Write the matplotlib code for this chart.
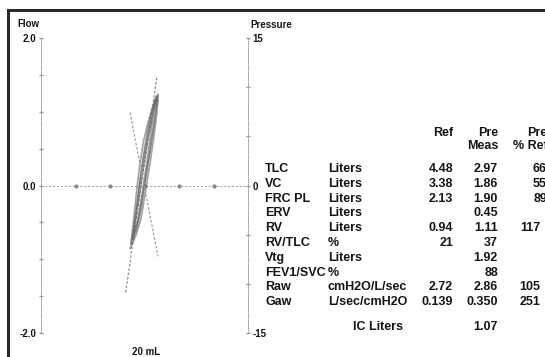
import matplotlib
matplotlib.use('Agg')
import matplotlib.pyplot as plt
from matplotlib.lines import Line2D

# ── Data ──────────────────────────────────────────────────────────────────────
# breathing loops: box volume shift (mL) vs flow (L/s)
loop_x = [
    [-8.2, -5.0, -2.0, 0.8, 3.2, 5.2, 7.0, 7.8, 7.2, 5.0, 2.0, -0.6, -2.6, -4.2, -5.8, -7.2, -8.2],
    [-7.6, -4.6, -1.8, 0.8, 3.0, 5.0, 6.8, 7.6, 6.6, 4.2, 1.6, -0.6, -2.6, -4.6, -6.4, -7.6],
    [-7.0, -4.0, -1.6, 0.6, 2.6, 4.4, 6.2, 7.2, 6.2, 3.8, 1.4, -0.8, -2.8, -4.6, -6.0, -7.0],
    [-6.6, -3.8, -1.0, 1.6, 3.8, 5.8, 7.4, 8.0, 7.2, 5.2, 3.0, 0.8, -1.4, -3.4, -5.2, -6.6],
]
loop_flow = [
    [-0.85, -0.68, -0.45, -0.05, 0.30, 0.62, 0.95, 1.15, 1.20, 1.08, 0.85, 0.60, 0.30, 0.00, -0.35, -0.65, -0.85],
    [-0.78, -0.60, -0.30, 0.10, 0.45, 0.78, 1.08, 1.20, 1.16, 0.95, 0.65, 0.35, 0.05, -0.30, -0.60, -0.78],
    [-0.72, -0.50, -0.15, 0.20, 0.52, 0.85, 1.12, 1.22, 1.18, 0.98, 0.70, 0.38, 0.05, -0.30, -0.55, -0.72],
    [-0.70, -0.48, -0.10, 0.25, 0.55, 0.85, 1.12, 1.24, 1.20, 1.00, 0.75, 0.45, 0.12, -0.20, -0.48, -0.70],
]
# sRaw tangent (flow axis) and Vtg line (pressure axis)
tangent_x = [-10.9, 7.2]
tangent_flow = [-1.45, 1.48]
vtg_x = [-8.4, 7.8]
vtg_pressure = [7.4, -7.2]

# results table
params = ['TLC', 'VC', 'FRC PL', 'ERV', 'RV', 'RV/TLC', 'Vtg', 'FEV1/SVC', 'Raw', 'Gaw']
units = ['Liters', 'Liters', 'Liters', 'Liters', 'Liters', '%', 'Liters', '%',
         'cmH2O/L/sec', 'L/sec/cmH2O']
ref = ['4.48', '3.38', '2.13', '', '0.94', '21', '', '', '2.72', '0.139']
meas = ['2.97', '1.86', '1.90', '0.45', '1.11', '37', '1.92', '88', '2.86', '0.350']
pct_ref = ['66', '55', '89', '', '117', '', '', '', '105', '251']
ic_liters = '1.07'

# ── Figure ────────────────────────────────────────────────────────────────────
W, H = 545, 357
fig = plt.figure(figsize=(W / 100, H / 100), dpi=100)
fig.patch.set_facecolor('white')
plt.rcParams['font.family'] = ['Liberation Sans', 'DejaVu Sans']

def fx(px): return px / W
def fy(py): return 1 - py / H

TXT = '#151515'
AXC = '#9a9a9a'

ax = fig.add_axes([fx(41), fy(333), fx(248) - fx(41), fy(38) - fy(333)])
ax.set_xlim(-60, 60)
ax.set_ylim(-2, 2)
ax.set_facecolor('none')
ax2 = ax.twinx()
ax2.set_ylim(-15, 15)

for a in (ax, ax2):
    for s in ('top', 'bottom'):
        a.spines[s].set_visible(False)
    a.set_xticks([])
ax.spines['right'].set_visible(False)
ax2.spines['left'].set_visible(False)
for a, side in ((ax, 'left'), (ax2, 'right')):
    a.spines[side].set_color(AXC)
    a.spines[side].set_linewidth(0.7)
    a.spines[side].set_linestyle((0, (1, 1.5)))

ax.set_yticks([2, 1.5, 1, 0.5, 0, -0.5, -1, -1.5, -2])
ax.set_yticklabels(['2.0', '', '', '', '0.0', '', '', '', '-2.0'])
ax2.set_yticks([15, 10, 5, 0, -5, -10, -15])
ax2.set_yticklabels(['15', '', '', '0', '', '', '-15'])
for a in (ax, ax2):
    a.tick_params(axis='y', length=2.5, width=1.0, color=AXC, direction='inout',
                  labelsize=7, labelcolor=TXT, pad=2)
    for t in a.get_yticklabels():
        t.set_fontweight('bold')

# zero line with division dots (20 mL per division)
ax.axhline(0, color=AXC, lw=0.7, ls=(0, (2, 2)), zorder=1)
ax.plot([-40, -20, 0, 20, 40], [0] * 5, ls='none', marker='o', ms=2,
        color='#8a8a8a', zorder=2)

# loops
for lx, ly in zip(loop_x, loop_flow):
    ax.plot(lx, ly, color='#666666', lw=1.2, alpha=0.6, zorder=3)
ax.plot(tangent_x, tangent_flow, color='#8c8c8c', lw=0.9, ls=(0, (2, 1.5)), zorder=2)
ax2.plot(vtg_x, vtg_pressure, color='#a0a0a0', lw=0.9, ls=(0, (2, 1.5)), zorder=2)

# axis titles
fs = 9
fig.text(fx(17), fy(24), 'Flow', fontsize=7, fontweight='bold', color=TXT, va='center')
fig.text(fx(250), fy(25), 'Pressure', fontsize=7, fontweight='bold', color=TXT, va='center')
fig.text(fx(146), fy(352), '20 mL', fontsize=7, fontweight='bold', color=TXT,
         ha='center', va='center')

# table
X_LAB, X_UNIT, X_REF, X_MEAS = 265, 328, 453, 498
fig.text(fx(X_REF), fy(133), 'Ref', fontsize=fs, fontweight='bold', color=TXT, ha='right', va='center')
fig.text(fx(X_MEAS), fy(133), 'Pre', fontsize=fs, fontweight='bold', color=TXT, ha='right', va='center')
fig.text(fx(X_MEAS), fy(146), 'Meas', fontsize=fs, fontweight='bold', color=TXT, ha='right', va='center')
fig.text(fx(527), fy(133), 'Pre', fontsize=fs, fontweight='bold', color=TXT, ha='left', va='center')
fig.text(fx(513), fy(146), '% Ref', fontsize=fs, fontweight='bold', color=TXT, ha='left', va='center')

y0, dy = 169.0, 14.8
for i, (p, u, r, m, pr) in enumerate(zip(params, units, ref, meas, pct_ref)):
    y = fy(y0 + i * dy)
    fig.text(fx(X_LAB), y, p, fontsize=fs, fontweight='bold', color=TXT, va='center')
    fig.text(fx(X_UNIT), y, u, fontsize=fs, fontweight='bold', color=TXT, va='center')
    fig.text(fx(X_REF), y, r, fontsize=fs, fontweight='bold', color=TXT, ha='right', va='center')
    fig.text(fx(X_MEAS), y, m, fontsize=fs, fontweight='bold', color=TXT, ha='right', va='center')
    # report column runs off the page: 3-digit values end ~540 px, 2-digit ones are clipped
    fig.text(fx(540 if len(pr) == 3 else 547), y, pr, fontsize=fs, fontweight='bold',
             color=TXT, ha='right', va='center')

fig.text(fx(403), fy(327), 'IC Liters', fontsize=fs, fontweight='bold', color=TXT, ha='right', va='center')
fig.text(fx(X_MEAS), fy(327), ic_liters, fontsize=fs, fontweight='bold', color=TXT, ha='right', va='center')

# report frame (top and left edges visible)
fig.add_artist(Line2D([fx(8), 1], [fy(10), fy(10)], color='#2a2a2a', lw=2.2))
fig.add_artist(Line2D([fx(8), fx(8)], [0, fy(10)], color='#2a2a2a', lw=2.2))

fig.savefig('out.png', dpi=100, facecolor='white')
